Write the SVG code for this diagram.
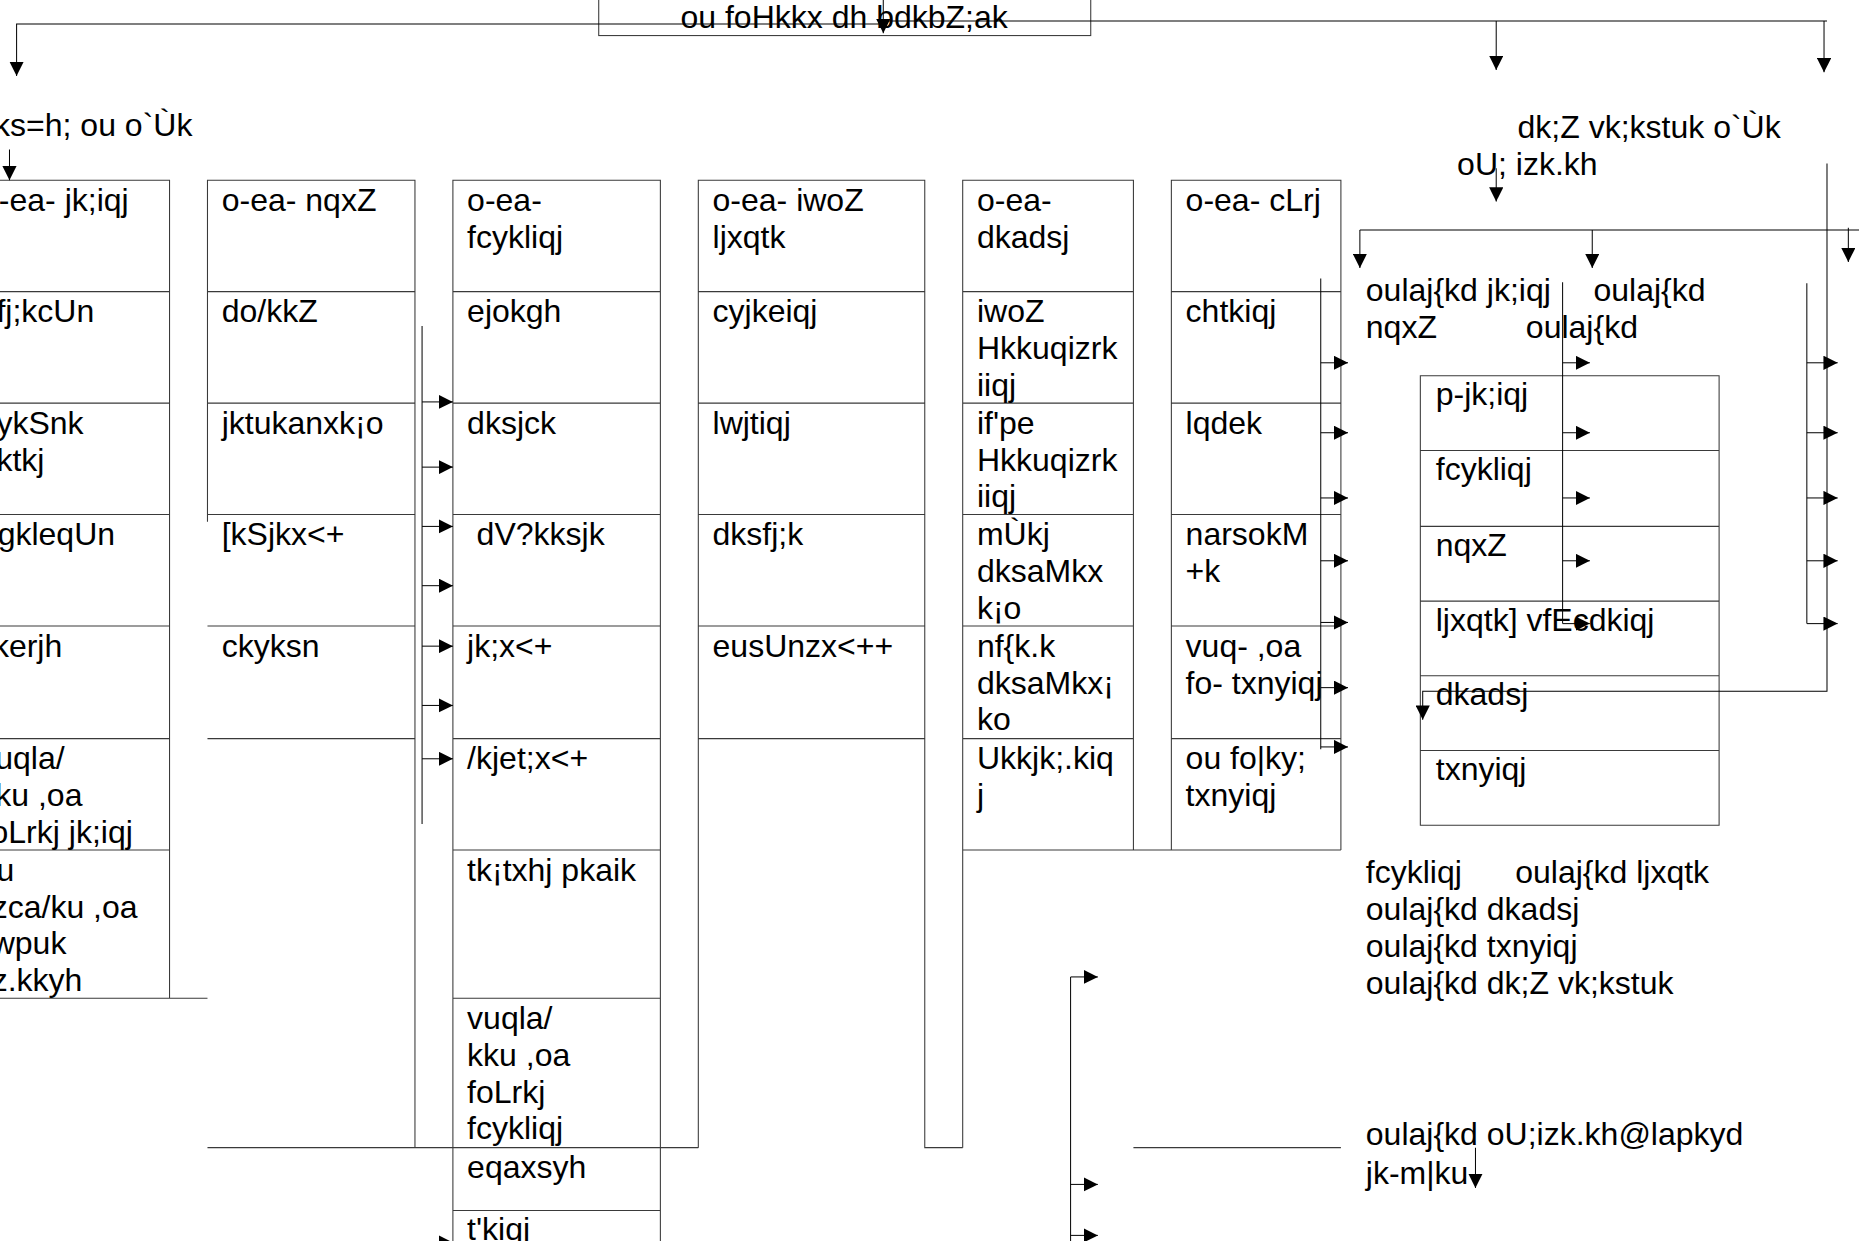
<svg xmlns="http://www.w3.org/2000/svg" width="1859" height="1241" viewBox="0 0 1859 1241">
<defs>
<marker id="ah" markerUnits="userSpaceOnUse" markerWidth="12" markerHeight="12" refX="12" refY="6" orient="auto"><path d="M0,0 L12,6 L0,12 z" fill="#000"/></marker>
</defs>
<style>
.bx{fill:none;stroke:#3a3a3a;stroke-width:0.9}
.ln{fill:none;stroke:#000;stroke-width:0.85}
.ar{fill:none;stroke:#000;stroke-width:0.85;marker-end:url(#ah)}
text{font-family:"Liberation Sans",Arial,sans-serif;font-size:27px;fill:#000}
</style>
<rect width="1859" height="1241" fill="#fff"/>
<g transform="scale(1.18559)">
<g id="title">
<rect class="bx" x="505" y="-10" width="415" height="40"/>
<text x="712" y="23.5" text-anchor="middle">ou foHkkx dh bdkbZ;ak</text>
</g>
<g id="label-kshetriya">
<text x="-5" y="115">ks=h; ou o`Ùk</text>
</g>
<g id="label-karya">
<text x="1280" y="116">dk;Z vk;kstuk o`Ùk</text>
<text x="1229" y="148">oU; izk.kh</text>
</g>
<g id="col1">
<path class="bx" d="M-5,152 H143 V842 M-5,246 H143 M-5,340 H143 M-5,434 H143 M-5,528 H143 M-5,623 H143 M-5,717 H143 M-5,842 H175"/>
<text x="-1" y="178">-ea- jk;iqj</text>
<text x="-3" y="272">fj;kcUn</text>
<text x="-3" y="366">ykSnk</text><text x="-3" y="397">ktkj</text>
<text x="-2" y="460">gkleqUn</text>
<text x="-6" y="554">kerjh</text>
<text x="-4" y="649">uqla/</text><text x="-4" y="680">ku ,oa</text><text x="-8" y="711">oLrkj jk;iqj</text>
<text x="-3" y="743">u</text><text x="-7" y="774">zca/ku ,oa</text><text x="-7" y="805">wpuk</text><text x="-7" y="836">z.kkyh</text>
</g>
<g id="col2">
<path class="bx" d="M175,440 V152 H350 V968 M175,246 H350 M175,340 H350 M175,434 H350 M175,528 H350 M175,623 H350"/>
<text x="187" y="178">o-ea- nqxZ</text>
<text x="187" y="272">do/kkZ</text>
<text x="187" y="366">jktukanxk¡o</text>
<text x="187" y="460">[kSjkx&lt;+</text>
<text x="187" y="554">ckyksn</text>
</g>
<g id="col3">
<path class="bx" d="M382,1060 V152 H557 V1060 M382,246 H557 M382,340 H557 M382,434 H557 M382,528 H557 M382,623 H557 M382,717 H557 M382,842 H557 M382,1021 H557 M175,968 H589"/>
<text x="394" y="178">o-ea-</text><text x="394" y="209">fcykliqj</text>
<text x="394" y="272">ejokgh</text>
<text x="394" y="366">dksjck</text>
<text x="402" y="460">dV?kksjk</text>
<text x="394" y="554">jk;x&lt;+</text>
<text x="394" y="649">/kjet;x&lt;+</text>
<text x="394" y="743">tk¡txhj pkaik</text>
<text x="394" y="868">vuqla/</text><text x="394" y="899">kku ,oa</text><text x="394" y="930">foLrkj</text><text x="394" y="961">fcykliqj</text>
<text x="394" y="994">eqaxsyh</text>
<text x="394" y="1046">t'kiqj</text>
</g>
<g id="col4">
<path class="bx" d="M589,968 V152 H780 V968 H812 M589,246 H780 M589,340 H780 M589,434 H780 M589,528 H780 M589,623 H780"/>
<text x="601" y="178">o-ea- iwoZ</text><text x="601" y="209">ljxqtk</text>
<text x="601" y="272">cyjkeiqj</text>
<text x="601" y="366">lwjtiqj</text>
<text x="601" y="460">dksfj;k</text>
<text x="601" y="554">eusUnzx&lt;++</text>
</g>
<g id="col5">
<path class="bx" d="M812,968 V152 H956 V717 M812,246 H956 M812,340 H956 M812,434 H956 M812,528 H956 M812,623 H956 M812,717 H1131"/>
<text x="824" y="178">o-ea-</text><text x="824" y="209">dkadsj</text>
<text x="824" y="272">iwoZ</text><text x="824" y="303">Hkkuqizrk</text><text x="824" y="334">iiqj</text>
<text x="824" y="366">if'pe</text><text x="824" y="397">Hkkuqizrk</text><text x="824" y="428">iiqj</text>
<text x="824" y="460">mÙkj</text><text x="824" y="491">dksaMkx</text><text x="824" y="522">k¡o</text>
<text x="824" y="554">nf{k.k</text><text x="824" y="585">dksaMkx¡</text><text x="824" y="616">ko</text>
<text x="824" y="649">Ukkjk;.kiq</text><text x="824" y="680">j</text>
</g>
<g id="col6">
<path class="bx" d="M988,717 V152 H1131 V717 M988,246 H1131 M988,340 H1131 M988,434 H1131 M988,528 H1131 M988,623 H1131 M956,968 H1131"/>
<text x="1000" y="178">o-ea- cLrj</text>
<text x="1000" y="272">chtkiqj</text>
<text x="1000" y="366">lqdek</text>
<text x="1000" y="460">narsokM</text><text x="1000" y="491">+k</text>
<text x="1000" y="554">vuq- ,oa</text><text x="1000" y="585">fo- txnyiqj</text>
<text x="1000" y="649">ou fo|ky;</text><text x="1000" y="680">txnyiqj</text>
</g>
<g id="sanrakshak-labels">
<text x="1152" y="254">oulaj{kd jk;iqj</text><text x="1344" y="254">oulaj{kd</text>
<text x="1152" y="285">nqxZ</text><text x="1287" y="285">oulaj{kd</text>
</g>
<g id="right-box">
<path class="bx" d="M1198,317 H1450 V696 H1198 Z M1198,380 H1450 M1198,444 H1450 M1198,507 H1450 M1198,570 H1450 M1198,633 H1450"/>
<text x="1211" y="342">p-jk;iqj</text>
<text x="1211" y="405">fcykliqj</text>
<text x="1211" y="469">nqxZ</text>
<text x="1211" y="532">ljxqtk] vfEcdkiqj</text>
<text x="1211" y="595">dkadsj</text>
<text x="1211" y="658">txnyiqj</text>
</g>
<g id="sanrakshak-list">
<text x="1152" y="745">fcykliqj</text><text x="1278" y="745">oulaj{kd ljxqtk</text>
<text x="1152" y="776">oulaj{kd dkadsj</text>
<text x="1152" y="807">oulaj{kd txnyiqj</text>
<text x="1152" y="838">oulaj{kd dk;Z vk;kstuk</text>
</g>
<g id="sanrakshak-wildlife">
<text x="1152" y="966">oulaj{kd oU;izk.kh@lapkyd</text>
<text x="1152" y="999">jk-m|ku</text>
</g>
<g id="connectors">
<path class="ar" d="M745,20.3 H14 V64"/>
<path class="ar" d="M745,0 V28"/>
<path class="ln" d="M745,17.8 H1541"/>
<path class="ar" d="M1262,17.8 V59"/>
<path class="ar" d="M1538.5,17.8 V61"/>
<path class="ar" d="M8,126 V152"/>
<path class="ln" d="M356,275 V695"/>
<path class="ar" d="M356,339 H382"/>
<path class="ar" d="M356,394 H382"/>
<path class="ar" d="M356,444 H382"/>
<path class="ar" d="M356,494 H382"/>
<path class="ar" d="M356,545 H382"/>
<path class="ar" d="M356,595 H382"/>
<path class="ar" d="M356,640 H382"/>
<path class="ar" d="M362,1048 H382"/>
<path class="ln" d="M1114,235 V632"/>
<path class="ar" d="M1114,306 H1137"/>
<path class="ar" d="M1114,365 H1137"/>
<path class="ar" d="M1114,420 H1137"/>
<path class="ar" d="M1114,473 H1137"/>
<path class="ar" d="M1114,525 H1137"/>
<path class="ar" d="M1114,580 H1137"/>
<path class="ar" d="M1114,630 H1137"/>
<path class="ar" d="M1262,142 V170"/>
<path class="ln" d="M1147,194 H1570"/>
<path class="ar" d="M1147,194 V226"/>
<path class="ar" d="M1343,194 V226"/>
<path class="ar" d="M1559,192 V221"/>
<path class="ln" d="M1318,238 V526"/>
<path class="ar" d="M1318,306 H1341"/>
<path class="ar" d="M1318,365 H1341"/>
<path class="ar" d="M1318,420 H1341"/>
<path class="ar" d="M1318,473 H1341"/>
<path class="ar" d="M1318,526 H1341"/>
<path class="ln" d="M1524,239 V526"/>
<path class="ar" d="M1524,306 H1550"/>
<path class="ar" d="M1524,365 H1550"/>
<path class="ar" d="M1524,420 H1550"/>
<path class="ar" d="M1524,473 H1550"/>
<path class="ar" d="M1524,526 H1550"/>
<path class="ar" d="M1541,138 V583 H1200 V607"/>
<path class="ln" d="M903,824 V1050"/>
<path class="ar" d="M903,824 H926"/>
<path class="ar" d="M903,999 H926"/>
<path class="ar" d="M903,1042 H926"/>
<path class="ar" d="M1244.5,968 V1002"/>
</g>
</g>
</svg>
